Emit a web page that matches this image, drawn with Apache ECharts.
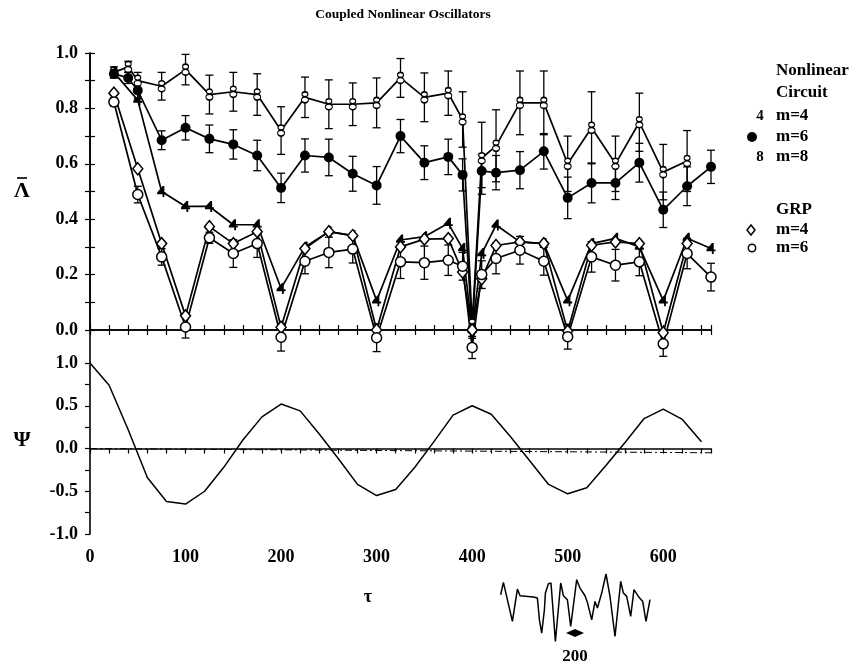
<!DOCTYPE html>
<html>
<head>
<meta charset="utf-8">
<script src="https://cdn.jsdelivr.net/npm/echarts@6.0.0/dist/echarts.min.js"></script>
<style>
  html, body { margin: 0; padding: 0; background: #fff; }
  #chart { width: 849px; height: 666px; }
</style>
</head>
<body>
<div id="chart"></div>
<script>
// Nonlinear circuit, m=8 (tau, Lambda, error)
const tau8 = [25, 40, 50, 75, 100, 125, 150, 175, 200, 225, 250, 275, 300, 325, 350, 375, 390, 400, 410, 425, 450, 475, 500, 525, 550, 575, 600, 625];
const lam8 = [0.93, 0.95, 0.90, 0.88, 0.94, 0.85, 0.86, 0.85, 0.72, 0.84, 0.815, 0.815, 0.82, 0.91, 0.84, 0.855, 0.76, 0.02, 0.62, 0.665, 0.82, 0.82, 0.60, 0.73, 0.60, 0.75, 0.57, 0.61];
const err8 = [0.02, 0.02, 0.03, 0.05, 0.055, 0.07, 0.07, 0.075, 0.086, 0.073, 0.088, 0.077, 0.09, 0.07, 0.088, 0.08, 0.1, 0.05, 0.13, 0.13, 0.115, 0.115, 0.1, 0.13, 0.1, 0.105, 0.1, 0.11];

// Nonlinear circuit, m=6
const tau6 = [25, 40, 50, 75, 100, 125, 150, 175, 200, 225, 250, 275, 300, 325, 350, 375, 390, 400, 410, 425, 450, 475, 500, 525, 550, 575, 600, 625, 650];
const lam6 = [0.925, 0.91, 0.865, 0.685, 0.73, 0.69, 0.67, 0.63, 0.513, 0.63, 0.623, 0.564, 0.522, 0.70, 0.604, 0.625, 0.56, 0.0, 0.574, 0.568, 0.577, 0.645, 0.477, 0.531, 0.531, 0.604, 0.434, 0.519, 0.589];
const err6 = [0.015, 0.02, 0.03, 0.034, 0.044, 0.05, 0.053, 0.055, 0.053, 0.06, 0.066, 0.063, 0.068, 0.06, 0.061, 0.064, 0.058, 0.05, 0.06, 0.062, 0.067, 0.064, 0.075, 0.072, 0.06, 0.07, 0.064, 0.07, 0.06];

// Nonlinear circuit, m=4
const tau4 = [25, 50, 75, 100, 125, 150, 175, 200, 225, 250, 275, 300, 325, 350, 375, 390, 400, 410, 425, 450, 475, 500, 525, 550, 575, 600, 625, 650];
const lam4 = [0.93, 0.83, 0.50, 0.446, 0.446, 0.38, 0.38, 0.15, 0.30, 0.355, 0.341, 0.106, 0.325, 0.337, 0.385, 0.294, 0.0, 0.276, 0.379, 0.318, 0.312, 0.106, 0.312, 0.331, 0.30, 0.106, 0.331, 0.294];

// GRP, m=4
const tauG4 = [25, 50, 75, 100, 125, 150, 175, 200, 225, 250, 275, 300, 325, 350, 375, 390, 400, 410, 425, 450, 475, 500, 525, 550, 575, 600, 625];
const lamG4 = [0.855, 0.582, 0.312, 0.051, 0.373, 0.312, 0.355, 0.01, 0.294, 0.355, 0.341, 0.0, 0.30, 0.328, 0.33, 0.209, 0.0, 0.185, 0.305, 0.318, 0.312, -0.004, 0.306, 0.318, 0.312, -0.01, 0.312];

// GRP, m=6
const tauG6 = [25, 50, 75, 100, 125, 150, 175, 200, 225, 250, 275, 300, 325, 350, 375, 390, 400, 410, 425, 450, 475, 500, 525, 550, 575, 600, 625, 650];
const lamG6 = [0.823, 0.489, 0.264, 0.011, 0.333, 0.276, 0.312, -0.026, 0.248, 0.28, 0.292, -0.028, 0.246, 0.243, 0.252, 0.23, -0.063, 0.2, 0.258, 0.288, 0.248, -0.024, 0.264, 0.234, 0.246, -0.05, 0.276, 0.191];
const errG6 = [0.015, 0.03, 0.03, 0.04, 0.02, 0.05, 0.05, 0.05, 0.045, 0.055, 0.05, 0.05, 0.06, 0.06, 0.055, 0.05, 0.04, 0.05, 0.055, 0.05, 0.05, 0.045, 0.055, 0.057, 0.05, 0.045, 0.055, 0.05];

// lower panel: Psi
const psiT = [0, 20, 40, 60, 80, 100, 120, 140, 160, 180, 200, 220, 240, 260, 280, 300, 320, 340, 360, 380, 400, 420, 440, 460, 480, 500, 520, 540, 560, 580, 600, 620, 640];
const psiV = [1.0, 0.74, 0.22, -0.34, -0.62, -0.65, -0.50, -0.22, 0.10, 0.37, 0.52, 0.44, 0.17, -0.12, -0.42, -0.55, -0.48, -0.22, 0.08, 0.39, 0.50, 0.40, 0.14, -0.14, -0.42, -0.53, -0.46, -0.20, 0.07, 0.35, 0.46, 0.34, 0.08];
const zeroT = [0, 650];
const zeroV = [0, -0.05];

// small waveform sketch under the axis
const insetT = [0, 2.7, 11.7, 16.7, 19.3, 32.7, 36.7, 38.7, 41, 43.7, 44.7, 47.7, 50.3, 54.7, 60, 62.7, 66.7, 70, 76, 79.3, 84.3, 86.7, 91, 94.3, 96.7, 101, 105.3, 109.3, 114.3, 120, 122.7, 126, 130, 133.3, 137.7, 142, 145.3, 149.3];
const insetV = [0.55, 0.92, -0.25, 0.72, 0.52, 0.48, 0.45, -0.2, -0.6, 0.1, 0.6, 0.88, 0.9, -0.85, 0.9, 0.52, 0.4, -0.4, 1.0, 0.75, 0.52, 0.32, -0.2, 0.35, 0.15, 0.6, 1.17, 0.5, -0.7, 0.95, 0.6, 0.5, -0.1, 0.7, 0.5, 0.35, -0.25, 0.4];

const FONT = 'Liberation Serif';
const zip = (a, b) => a.map((v, i) => [v, b[i]]);
const zip3 = (a, b, c) => a.map((v, i) => [v, b[i], c[i]]);

const SYM_FOUR = 'path://M6,0 L8,0 L8,7 L10,7 L10,9 L8,9 L8,12 L6,12 L6,9 L0,9 L0,7 Z';
const SYM_EIGHT = 'path://M5,0 A3,3 0 1,1 5,6 A3,3 0 1,1 5,0 Z M5,6 A3.5,3.5 0 1,1 5,13 A3.5,3.5 0 1,1 5,6 Z';

function errRender(params, api) {
    const x = api.value(0), y = api.value(1), e = api.value(2);
    const p1 = api.coord([x, y + e]);
    const p2 = api.coord([x, y - e]);
    const w = 4;
    const st = { stroke: '#000', lineWidth: 1.3 };
    return {
        type: 'group',
        children: [
            { type: 'line', shape: { x1: p1[0], y1: p1[1], x2: p2[0], y2: p2[1] }, style: st },
            { type: 'line', shape: { x1: p1[0] - w, y1: p1[1], x2: p1[0] + w, y2: p1[1] }, style: st },
            { type: 'line', shape: { x1: p2[0] - w, y1: p2[1], x2: p2[0] + w, y2: p2[1] }, style: st }
        ]
    };
}

const axisLine = { show: true, lineStyle: { color: '#000', width: 1.6 } };
const tick = { show: true, length: 5, lineStyle: { color: '#000', width: 1.2 } };
const lbl = { color: '#000', fontFamily: FONT, fontWeight: 'bold', fontSize: 18 };
const txt = (s, x, y, size, align) => ({
    type: 'text', x: x, y: y,
    style: { text: s, font: 'bold ' + size + 'px "Liberation Serif"', fill: '#000', align: align || 'left', verticalAlign: 'middle' }
});

const L = 90, R = 138;

const chart = echarts.init(document.getElementById('chart'));
const option = {
    animation: false,
    backgroundColor: '#fff',
    title: {
        text: 'Coupled Nonlinear Oscillators',
        left: 398, top: 3, textAlign: 'center',
        textStyle: { fontFamily: FONT, fontWeight: 'bold', fontSize: 13.5, color: '#000' }
    },
    grid: [
        { left: L, right: R, top: 53, height: 277 },
        { left: L, right: R, top: 363, height: 171 },
        { left: 500.7, top: 574, width: 150, height: 67.5 }
    ],
    xAxis: [
        { gridIndex: 0, type: 'value', min: 0, max: 650, interval: 20, position: 'bottom',
          axisLine, axisTick: tick, axisLabel: { show: false }, splitLine: { show: false } },
        { gridIndex: 0, type: 'value', min: 0, max: 650, interval: 20, position: 'top',
          axisLine, axisTick: tick, axisLabel: { show: false }, splitLine: { show: false } },
        { gridIndex: 1, type: 'value', min: 0, max: 650, interval: 20, position: 'bottom',
          axisLine, axisTick: tick, splitLine: { show: false },
          axisLabel: Object.assign({}, lbl, { margin: 14, formatter: v => (v % 100 === 0 ? String(v) : '') }) },
        { gridIndex: 2, type: 'value', min: 0, max: 150, show: false }
    ],
    yAxis: [
        { gridIndex: 0, type: 'value', min: 0, max: 1, interval: 0.1, position: 'left',
          axisLine, axisTick: tick, splitLine: { show: false },
          axisLabel: Object.assign({}, lbl, { margin: 12, formatter: v => (Math.round(v * 10) % 2 === 0 ? v.toFixed(1) : '') }) },
        { gridIndex: 0, type: 'value', min: 0, max: 1, interval: 0.1, position: 'right',
          axisLine, axisTick: tick, axisLabel: { show: false }, splitLine: { show: false } },
        { gridIndex: 1, type: 'value', min: -1, max: 1, interval: 0.25, position: 'left',
          axisLine, axisTick: tick, splitLine: { show: false },
          axisLabel: Object.assign({}, lbl, { margin: 12, formatter: v => (Math.round(v * 4) % 2 === 0 ? v.toFixed(1) : '') }) },
        { gridIndex: 2, type: 'value', min: -0.85, max: 1.17, show: false }
    ],
    series: [
        { type: 'custom', name: 'err8', xAxisIndex: 0, yAxisIndex: 0, renderItem: errRender,
          encode: { x: 0, y: 1 }, data: zip3(tau8, lam8, err8), z: 1 },
        { type: 'custom', name: 'err6', xAxisIndex: 0, yAxisIndex: 0, renderItem: errRender,
          encode: { x: 0, y: 1 }, data: zip3(tau6, lam6, err6), z: 1 },
        { type: 'custom', name: 'errG6', xAxisIndex: 0, yAxisIndex: 0, renderItem: errRender,
          encode: { x: 0, y: 1 }, data: zip3(tauG6, lamG6, errG6), z: 1 },
        { type: 'line', name: 'Circuit m=8', xAxisIndex: 0, yAxisIndex: 0, data: zip(tau8, lam8), clip: false,
          symbol: SYM_EIGHT, symbolSize: [7, 11],
          itemStyle: { color: '#fff', borderColor: '#000', borderWidth: 1.3 },
          lineStyle: { color: '#000', width: 1.7 }, z: 3 },
        { type: 'line', name: 'Circuit m=6', xAxisIndex: 0, yAxisIndex: 0, data: zip(tau6, lam6), clip: false,
          symbol: 'circle', symbolSize: 10,
          itemStyle: { color: '#000' }, lineStyle: { color: '#000', width: 1.7 }, z: 3 },
        { type: 'line', name: 'Circuit m=4', xAxisIndex: 0, yAxisIndex: 0, data: zip(tau4, lam4), clip: false,
          symbol: SYM_FOUR, symbolSize: [9, 11],
          itemStyle: { color: '#000' }, lineStyle: { color: '#000', width: 1.7 }, z: 3 },
        { type: 'line', name: 'GRP m=4', xAxisIndex: 0, yAxisIndex: 0, data: zip(tauG4, lamG4), clip: false,
          symbol: 'diamond', symbolSize: [10, 12],
          itemStyle: { color: '#fff', borderColor: '#000', borderWidth: 1.5 },
          lineStyle: { color: '#000', width: 1.7 }, z: 3 },
        { type: 'line', name: 'GRP m=6', xAxisIndex: 0, yAxisIndex: 0, data: zip(tauG6, lamG6), clip: false,
          symbol: 'circle', symbolSize: 10,
          itemStyle: { color: '#fff', borderColor: '#000', borderWidth: 1.5 },
          lineStyle: { color: '#000', width: 1.7 }, z: 3 },
        { type: 'line', name: 'zero', xAxisIndex: 2, yAxisIndex: 2, data: zip(zeroT, zeroV),
          symbol: 'none', lineStyle: { color: '#000', width: 1, type: [7, 3, 2, 3] } },
        { type: 'line', name: 'Psi', xAxisIndex: 2, yAxisIndex: 2, data: zip(psiT, psiV),
          symbol: 'none', lineStyle: { color: '#000', width: 1.5 } },
        { type: 'line', name: 'inset', xAxisIndex: 3, yAxisIndex: 3, data: zip(insetT, insetV),
          symbol: 'none', lineStyle: { color: '#000', width: 1.5 } }
    ],
    graphic: [
        // left axis continues between the two panels
        { type: 'line', shape: { x1: L, y1: 330, x2: L, y2: 363 }, style: { stroke: '#000', lineWidth: 1.6 } },
        // axis names
        txt('Λ', 22, 191, 22, 'center'),
        { type: 'line', shape: { x1: 17, y1: 178, x2: 27, y2: 178 }, style: { stroke: '#000', lineWidth: 1.6 } },
        txt('Ψ', 22, 440, 22, 'center'),
        txt('τ', 368, 597, 18, 'center'),
        // scale bar under the waveform
        { type: 'polygon', shape: { points: [[566, 633], [575, 629], [584, 633], [575, 637]] }, style: { fill: '#000' } },
        txt('200', 575, 657, 17, 'center'),
        // legend
        txt('Nonlinear', 776, 71, 17),
        txt('Circuit', 776, 93, 17),
        txt('4', 760, 116, 15, 'center'),
        txt('m=4', 776, 116, 17),
        { type: 'circle', shape: { cx: 752, cy: 137, r: 5 }, style: { fill: '#000' } },
        txt('m=6', 776, 137, 17),
        txt('8', 760, 157, 15, 'center'),
        txt('m=8', 776, 157, 17),
        txt('GRP', 776, 210, 17),
        { type: 'polygon', shape: { points: [[751, 225], [755, 230], [751, 235], [747, 230]] }, style: { fill: '#fff', stroke: '#000', lineWidth: 1.5 } },
        txt('m=4', 776, 230, 17),
        { type: 'circle', shape: { cx: 752, cy: 248, r: 3.7 }, style: { fill: '#fff', stroke: '#000', lineWidth: 1.5 } },
        txt('m=6', 776, 248, 17)
    ]
};
chart.setOption(option);
</script>
</body>
</html>
